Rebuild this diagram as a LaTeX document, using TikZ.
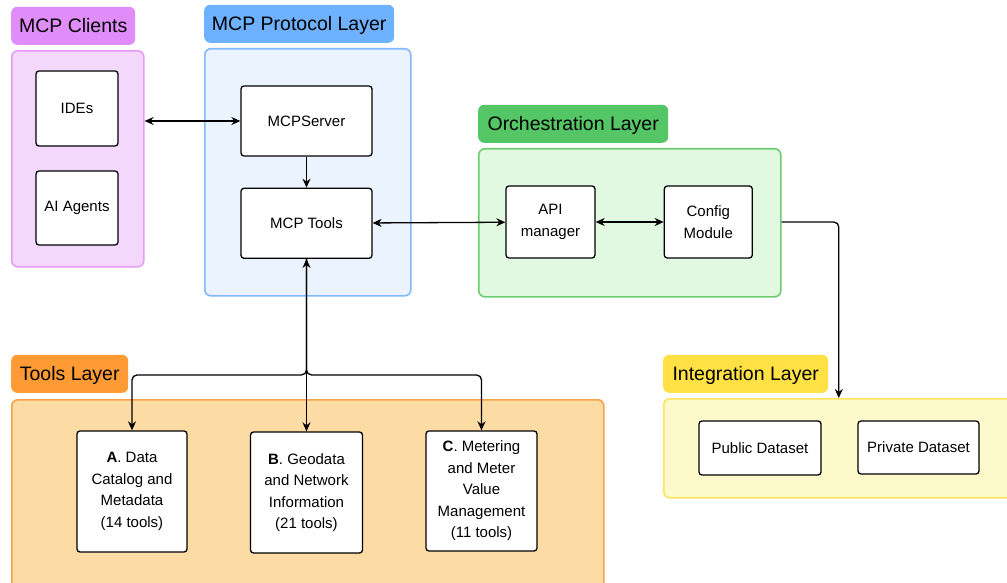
\documentclass[tikz,border=0pt]{standalone}
\usepackage{fontspec}
\setmainfont{Liberation Sans}
\usepackage{tikz}
\usetikzlibrary{arrows.meta, positioning, calc}
\usepackage{xcolor}

\definecolor{clientsTitle}{HTML}{E08DF9}
\definecolor{clientsFill}{HTML}{F3D8FC}
\definecolor{clientsLine}{HTML}{E59CF6}
\definecolor{protoTitle}{HTML}{6DB1FF}
\definecolor{protoFill}{HTML}{EBF3FE}
\definecolor{protoLine}{HTML}{80B9FD}
\definecolor{orchTitle}{HTML}{55C666}
\definecolor{orchFill}{HTML}{E2F9E1}
\definecolor{orchLine}{HTML}{6BCD70}
\definecolor{integTitle}{HTML}{FFE145}
\definecolor{integFill}{HTML}{FCF9CB}
\definecolor{integLine}{HTML}{FDE45E}
\definecolor{toolsTitle}{HTML}{FF9B35}
\definecolor{toolsFill}{HTML}{FDDBA5}
\definecolor{toolsLine}{HTML}{F9A14B}

\begin{document}
\begin{tikzpicture}[
    x=1pt, y=-1pt,
    node distance=31pt and 68pt,
    layer/.style={rectangle, draw, line width=1.6pt, rounded corners=6pt, anchor=north west},
    title/.style={rectangle, rounded corners=6pt, minimum height=38pt, text height=14pt, text depth=0pt, font=\fontsize{19.5}{23}\selectfont},
    box/.style={rectangle, draw, line width=1.3pt, rounded corners=3pt, fill=white, align=center, font=\fontsize{15}{21.5}\selectfont},
    arrow/.style={-{Stealth[length=9pt, width=8pt]}, line width=1.3pt},
    both/.style={{Stealth[length=9pt, width=8pt]}-{Stealth[length=9pt, width=8pt]}, line width=1.3pt}
]
\clip (0,0) rectangle (1007,583);

% layer containers
\node[layer, fill=clientsFill, draw=clientsLine, minimum width=132pt, minimum height=216pt] (clients) at (11,50) {};
\node[layer, fill=protoFill, draw=protoLine, minimum width=206pt, minimum height=247pt] (proto) at (204,48) {};
\node[layer, fill=orchFill, draw=orchLine, minimum width=302pt, minimum height=148pt] (orch) at (478,148) {};
\node[layer, fill=toolsFill, draw=toolsLine, minimum width=592pt, minimum height=200pt] (toolslayer) at (11,399) {};
\node[layer, fill=integFill, draw=integLine, minimum width=350pt, minimum height=99pt] (integ) at (663,398) {};

% layer titles
\node[title, fill=clientsTitle, minimum width=124pt, above=5pt of clients.north west, anchor=south west] (clientsT) {MCP Clients};
\node[title, fill=protoTitle, minimum width=190pt, above=5pt of proto.north west, anchor=south west] (protoT) {MCP Protocol Layer};
\node[title, fill=orchTitle, minimum width=190pt, above=5pt of orch.north west, anchor=south west] (orchT) {Orchestration Layer};
\node[title, fill=toolsTitle, minimum width=117pt, above=6pt of toolslayer.north west, anchor=south west] (toolsT) {Tools Layer};
\node[title, fill=integTitle, minimum width=165pt, above=5pt of integ.north west, anchor=south west] (integT) {Integration Layer};

% boxes
\node[box, minimum width=82pt, minimum height=75pt] (ides) at (77,108.5) {IDEs};
\node[box, minimum width=82pt, minimum height=74pt] (agents) at (77,208) {AI Agents};
\node[box, minimum width=131pt, minimum height=70pt] (mcpserver) at (306.5,121) {MCPServer};
\node[box, minimum width=131pt, minimum height=70pt, below=of mcpserver] (mcptools) {MCP Tools};
\node[box, minimum width=89pt, minimum height=72pt] (api) at (550.5,222) {API\\manager};
\node[box, minimum width=88pt, minimum height=72pt, right=of api] (config) {Config\\Module};
\node[box, minimum width=122pt, minimum height=54pt] (public) at (760,448) {Public Dataset};
\node[box, minimum width=121pt, minimum height=53pt] (private) at (918.5,447.5) {Private Dataset};
\node[box, minimum width=110pt, minimum height=121pt] (catalog) at (132,491.5) {\textbf{A}. Data\\Catalog and\\Metadata\\(14 tools)};
\node[box, minimum width=112pt, minimum height=121pt] (geodata) at (306.5,492.5) {\textbf{B}. Geodata\\and Network\\Information\\(21 tools)};
\node[box, minimum width=111pt, minimum height=120pt] (metering) at (481.5,491) {\textbf{C}. Metering\\and Meter\\Value\\Management\\(11 tools)};

\coordinate (hub) at ($(mcptools.south)+(0,116)$);

% connectors
\draw[both] (clients.east |- mcpserver.west) -- (mcpserver.west);
\draw[arrow] (mcpserver) -- (mcptools);
\draw[both] (mcptools) -- (api);
\draw[both] (api) -- (config);
\draw[arrow, rounded corners=5pt] (orch.east |- config.east) -| (integ.north);
\draw[arrow] (hub) -- (mcptools);
\draw[arrow, rounded corners=5pt] (mcptools.south) -- (hub) -| (catalog);
\draw[arrow, rounded corners=5pt] (mcptools.south) -- (hub) -| (metering);
\draw[arrow] (hub) -- (geodata);
\end{tikzpicture}
\end{document}
